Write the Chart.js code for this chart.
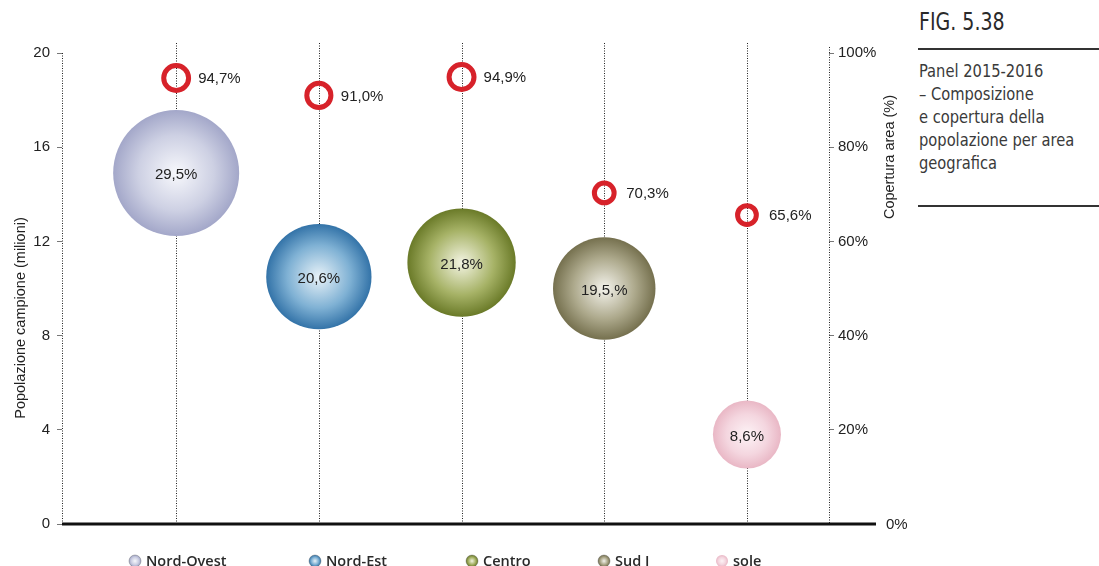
<!DOCTYPE html>
<html>
<head>
<meta charset="utf-8">
<script src="https://cdn.jsdelivr.net/npm/chart.js@4.4.1/dist/chart.umd.min.js"></script>
<style>
  html, body { margin: 0; padding: 0; background: #fff; }
  body { width: 1099px; height: 566px; position: relative; overflow: hidden; }
  #wrap { position: absolute; left: 0; top: 0; width: 910px; height: 566px; }
  #side { position: absolute; left: 918px; top: 0; width: 181px; color: #2a2a2a;
          font-family: "Liberation Sans Narrow", "DejaVu Sans Condensed", "Liberation Sans", sans-serif; }
  #side .fig { position: absolute; left: 1px; top: 8px; font-size: 24px; white-space: nowrap;
               transform: scaleX(0.88); transform-origin: left top; }
  #side .rule { position: absolute; left: 0; width: 181px; height: 2px; background: #333; }
  #side .txt { position: absolute; left: 1px; top: 60px; font-size: 17px; line-height: 23px; white-space: nowrap; color: #3a3a3a;
               transform: scaleX(0.96); transform-origin: left top; }
</style>
</head>
<body>
<div id="wrap"><canvas id="chart" width="910" height="566"></canvas></div>
<div id="side">
  <div class="fig">FIG. 5.38</div>
  <div class="rule" style="top:48px"></div>
  <div class="txt">Panel 2015-2016<br>– Composizione<br>e copertura della<br>popolazione per area<br>geografica</div>
  <div class="rule" style="top:205px"></div>
</div>
<script>
// areas along the x axis
const areas = ['Nord-Ovest', 'Nord-Est', 'Centro', 'Sud I', 'sole'];
// sample population (millions) -> bubble height
const population = [14.9, 10.5, 11.1, 10.0, 3.8];
// share of the sample (%) -> bubble size
const share = [29.5, 20.6, 21.8, 19.5, 8.6];
const shareLabels = ['29,5%', '20,6%', '21,8%', '19,5,%', '8,6%'];
// area coverage (%) -> red rings, right axis
const coverage = [94.7, 91.0, 94.9, 70.3, 65.6];
// axis ticks
const popTicks = [0, 4, 8, 12, 16, 20];
const covTicks = [0, 20, 40, 60, 80, 100];

// colours per area: centre, middle, edge of the sphere shading
const shades = [
  ['#f7f8fc', '#cdd0e3', '#a3a7c9'],
  ['#e8f2f8', '#7fb1d4', '#3373a8'],
  ['#f3f4e2', '#a6b266', '#6a7a28'],
  ['#f4f3ec', '#ada98c', '#75704e'],
  ['#fdf3f6', '#f4d6df', '#e9b7c5']
];
const ringColor = '#d7222a';
const legendMarkerX = [135, 315, 472, 604, 722];

const fmt = v => v.toFixed(1).replace('.', ',') + '%';

function sphere(ctx, x, y, r, cols) {
  const g = ctx.createRadialGradient(x, y, 0, x, y, r);
  g.addColorStop(0, cols[0]);
  g.addColorStop(0.6, cols[1]);
  g.addColorStop(1, cols[2]);
  return g;
}

const decorations = {
  id: 'decorations',
  beforeDatasetsDraw(chart) {
    const { ctx, chartArea: a, scales } = chart;
    ctx.save();
    ctx.strokeStyle = '#222';
    ctx.lineWidth = 1;
    ctx.setLineDash([1, 1.5]);
    ctx.beginPath();
    areas.forEach((_, i) => {
      const x = Math.round(scales.x.getPixelForValue(i)) + 0.5;
      ctx.moveTo(x, a.top - 10);
      ctx.lineTo(x, a.bottom);
    });
    ctx.moveTo(Math.round(a.left) + 0.5, a.top);
    ctx.lineTo(Math.round(a.left) + 0.5, a.bottom);
    ctx.moveTo(Math.round(a.right) + 0.5, a.top - 6);
    ctx.lineTo(Math.round(a.right) + 0.5, a.bottom);
    ctx.stroke();
    ctx.restore();
  },
  afterDatasetsDraw(chart) {
    const { ctx, chartArea: a, scales } = chart;
    const y0 = scales.y.getPixelForValue(0);
    ctx.save();

    // base line
    ctx.strokeStyle = '#111';
    ctx.lineWidth = 3;
    ctx.beginPath();
    ctx.moveTo(a.left, y0);
    ctx.lineTo(a.right + 47, y0);
    ctx.stroke();
    ctx.fillStyle = '#222';
    ctx.font = '15px "Liberation Sans", Arial, sans-serif';
    ctx.textBaseline = 'middle';
    ctx.textAlign = 'left';
    ctx.fillText('0%', a.right + 57, y0 + 1);

    // value labels
    areas.forEach((_, i) => {
      const x = scales.x.getPixelForValue(i);
      ctx.textAlign = 'center';
      ctx.fillText(shareLabels[i], x, scales.y.getPixelForValue(population[i]) + 2);
      ctx.textAlign = 'left';
      ctx.fillText(fmt(coverage[i]), x + 22, scales.y2.getPixelForValue(coverage[i]) + 1);
    });

    // axis titles
    ctx.font = '14.5px "Liberation Sans", Arial, sans-serif';
    ctx.textAlign = 'center';
    ctx.save();
    ctx.translate(21, 318);
    ctx.rotate(-Math.PI / 2);
    ctx.fillText('Popolazione campione (milioni)', 0, 0);
    ctx.restore();
    ctx.save();
    ctx.translate(890, 157);
    ctx.rotate(-Math.PI / 2);
    ctx.fillText('Copertura area (%)', 0, 0);
    ctx.restore();

    // legend
    ctx.font = '600 14.5px "Open Sans", "Noto Sans", sans-serif';
    ctx.textAlign = 'left';
    ctx.textBaseline = 'alphabetic';
    areas.forEach((name, i) => {
      const mx = legendMarkerX[i], my = 561;
      ctx.beginPath();
      ctx.arc(mx, my, 6, 0, Math.PI * 2);
      ctx.fillStyle = sphere(ctx, mx, my, 6, shades[i]);
      ctx.fill();
      if (i < 4) {
        ctx.strokeStyle = 'rgba(80,80,80,0.45)';
        ctx.lineWidth = 0.8;
        ctx.stroke();
      }
      ctx.fillStyle = '#2a2a2a';
      ctx.fillText(name, mx + 11, 566);
    });
    ctx.restore();
  }
};

new Chart(document.getElementById('chart'), {
  data: {
    datasets: [
      {
        type: 'bubble',
        label: 'Composizione',
        yAxisID: 'y',
        data: areas.map((_, i) => ({ x: i, y: population[i], r: 11.6 * Math.sqrt(share[i]) })),
        borderWidth: 0,
        backgroundColor: c => {
          const { chart, dataIndex, raw } = c;
          if (!raw || !chart.chartArea) return shades[dataIndex][1];
          const x = chart.scales.x.getPixelForValue(raw.x);
          const y = chart.scales.y.getPixelForValue(raw.y);
          return sphere(chart.ctx, x, y, raw.r, shades[dataIndex]);
        },
        hoverRadius: 0
      },
      {
        type: 'scatter',
        label: 'Copertura',
        yAxisID: 'y2',
        data: areas.map((_, i) => ({ x: i, y: coverage[i] })),
        pointRadius: c => 2.5 + 0.105 * coverage[c.dataIndex],
        pointBorderWidth: 5,
        pointBorderColor: ringColor,
        pointBackgroundColor: 'rgba(0,0,0,0)'
      }
    ]
  },
  options: {
    responsive: false,
    animation: false,
    events: [],
    layout: { autoPadding: false, padding: { top: 53, bottom: 42, left: 0, right: 0 } },
    plugins: { legend: { display: false }, tooltip: { enabled: false } },
    scales: {
      x: { type: 'linear', display: false, min: -0.8, max: 4.575 },
      y: {
        position: 'left',
        min: 0, max: 20,
        afterBuildTicks: s => { s.ticks = popTicks.map(v => ({ value: v })); },
        afterFit: s => { s.width = 62; },
        ticks: { color: '#222', padding: 7, font: { size: 15, family: '"Liberation Sans", Arial, sans-serif' } },
        grid: { drawOnChartArea: false, tickLength: 5, color: '#777' },
        border: { display: false }
      },
      y2: {
        position: 'right',
        min: 0, max: 100,
        afterBuildTicks: s => { s.ticks = covTicks.map(v => ({ value: v })); },
        afterFit: s => { s.width = 81; },
        ticks: {
          color: '#222', padding: 4,
          font: { size: 15, family: '"Liberation Sans", Arial, sans-serif' },
          callback: v => (v === 0 ? '' : v + '%')
        },
        grid: { drawOnChartArea: false, tickLength: 5, color: '#777' },
        border: { display: false }
      }
    }
  },
  plugins: [decorations]
});
</script>
</body>
</html>
